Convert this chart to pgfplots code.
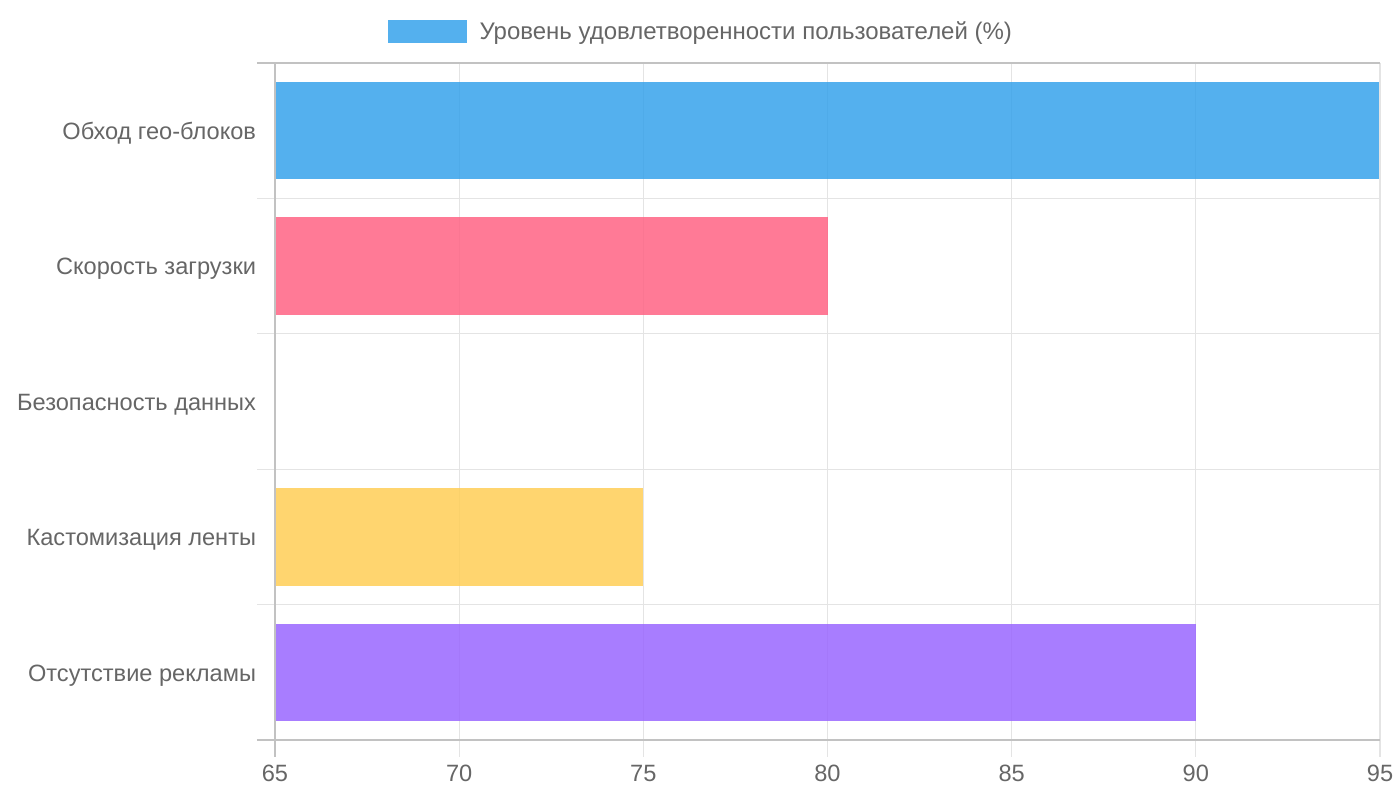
\documentclass[border=0pt]{standalone}
\usepackage{pgfplots}
\pgfplotsset{compat=1.18}
\usepackage{fontspec}
\setmainfont{Liberation Sans}

\definecolor{txt}{HTML}{666666}
\definecolor{gridc}{HTML}{E4E4E4}
\definecolor{axisc}{HTML}{C2C2C2}
\definecolor{cblue}{RGB}{54,162,235}
\definecolor{cpink}{RGB}{255,99,132}
\definecolor{cteal}{RGB}{75,192,192}
\definecolor{cyellow}{RGB}{255,206,86}
\definecolor{cpurple}{RGB}{153,102,255}

% 1px of the reference = 0.75pt
\begin{document}
\begin{tikzpicture}
\begin{axis}[
	scale only axis,
	width=828.75pt,
	height=507.75pt,
	xmin=65, xmax=95,
	ymin=-0.5, ymax=4.5,
	y dir=reverse,
	clip mode=individual,
	xtick={65,70,...,95},
	ytick={0,...,4},
	yticklabels={Обход гео-блоков,Скорость загрузки,Безопасность данных,Кастомизация ленты,Отсутствие рекламы},
	minor ytick={-0.5,0.5,...,4.5},
	xmajorgrids=true,
	ymajorgrids=false,
	yminorgrids=true,
	major grid style={gridc, line width=0.8pt},
	minor grid style={gridc, line width=0.8pt},
	tick style={draw=none},
	axis line style={draw=none},
	ticklabel style={font=\fontsize{17.7}{20}\selectfont, text=txt, inner sep=0pt},
	xticklabel style={anchor=north, yshift=-18.75pt},
	yticklabel style={anchor=east, xshift=-9.75pt, yshift=-2.25pt},
	/pgf/number format/assume math mode=true,
	xbar,
	bar width=0.72,
	legend style={
		at={(axis description cs:0.3846,1)},
		anchor=center,
		yshift=23.25pt,
		xshift=1pt,
		draw=none, fill=none,
		inner sep=0pt,
		column sep=7.5pt,
		font=\fontsize{18}{20}\selectfont,
		text=txt,
	},
	legend image code/.code={
		\fill[cblue, fill opacity=0.85] (0pt,-8.2pt) rectangle (59.25pt,9.05pt);
	},
	]
	\addplot[fill=cblue, fill opacity=0.85, draw=none, bar shift=0pt] coordinates {(95,0)};
	\addlegendentry{Уровень удовлетворенности пользователей (\%)}
	\addplot[forget plot, fill=cpink, fill opacity=0.85, draw=none, bar shift=0pt] coordinates {(80,1)};
	\addplot[forget plot, fill=cteal, fill opacity=0.85, draw=none, bar shift=0pt] coordinates {(65,2)};
	\addplot[forget plot, fill=cyellow, fill opacity=0.85, draw=none, bar shift=0pt] coordinates {(75,3)};
	\addplot[forget plot, fill=cpurple, fill opacity=0.85, draw=none, bar shift=0pt] coordinates {(90,4)};

	% grid lines reaching past the axes, as tick marks
	\pgfplotsinvokeforeach{0.5,1.5,2.5,3.5}{
		\draw[gridc, line width=0.8pt] (axis cs:65,#1) -- ++(-13.5pt,0pt);
	}
	\pgfplotsinvokeforeach{70,75,80,85,90,95}{
		\draw[gridc, line width=0.8pt] (axis cs:#1,4.5) -- ++(0pt,-12.75pt);
	}
	\draw[gridc, line width=0.8pt] (axis cs:95,-0.5) -- (axis cs:95,4.5);
	% darker axis lines
	\draw[axisc, line width=1pt] (axis cs:65,-0.5) ++(-13.5pt,0pt) -- (axis cs:95,-0.5);
	\draw[axisc, line width=1pt] (axis cs:65,4.5) ++(-13.5pt,0pt) -- (axis cs:95,4.5);
	\draw[axisc, line width=1pt] (axis cs:65,-0.5) -- (axis cs:65,4.5) -- ++(0pt,-12.75pt);
	\coordinate (bl) at (axis cs:65,4.5);
	\coordinate (tr) at (axis cs:95,-0.5);
\end{axis}
\pgfresetboundingbox
\useasboundingbox ([shift={(-206.25pt,-45pt)}]bl) rectangle ([shift={(15pt,47.25pt)}]tr);
\end{tikzpicture}
\end{document}
